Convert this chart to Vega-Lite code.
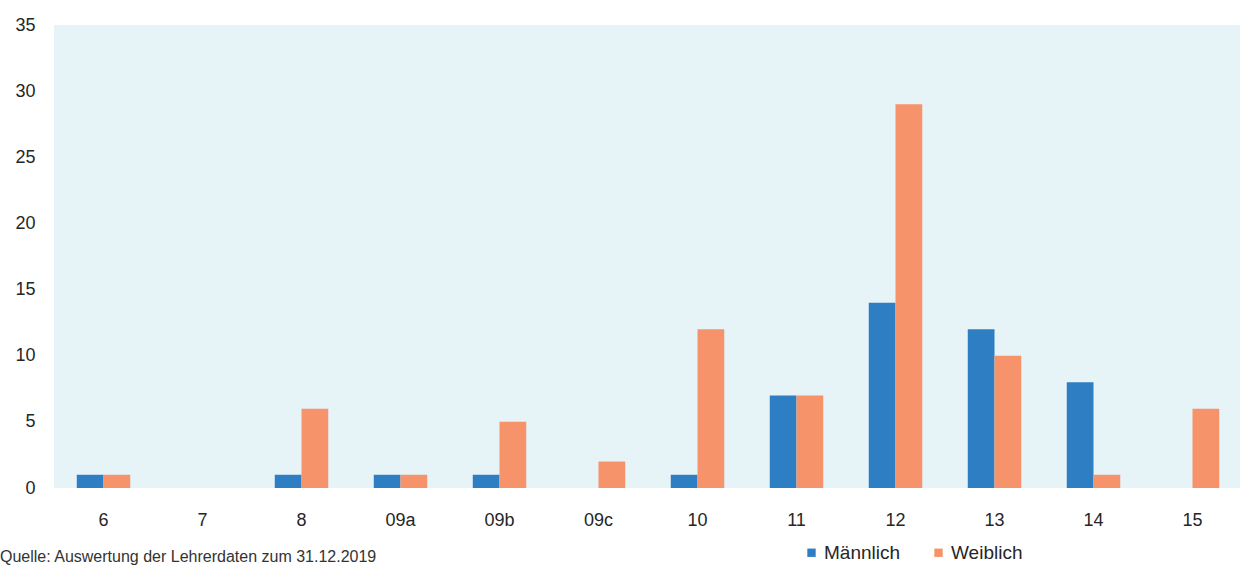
{
  "$schema": "https://vega.github.io/schema/vega-lite/v6.json",
  "autosize": "none",
  "width": 1188,
  "height": 463,
  "padding": {"left": 54, "top": 25, "right": 0, "bottom": 78},
  "background": "white",
  "config": {
    "view": {"fill": "#e6f3f7", "stroke": null},
    "font": "Liberation Sans"
  },
  "title": {
    "text": "Quelle: Auswertung der Lehrerdaten zum 31.12.2019",
    "orient": "bottom",
    "anchor": "start",
    "dx": -15,
    "offset": -14,
    "fontSize": 16,
    "fontWeight": "normal",
    "color": "#333333"
  },
  "data": {
    "values": [
      {"k": "6", "g": "Männlich", "v": 1}, {"k": "6", "g": "Weiblich", "v": 1},
      {"k": "7", "g": "Männlich", "v": 0}, {"k": "7", "g": "Weiblich", "v": 0},
      {"k": "8", "g": "Männlich", "v": 1}, {"k": "8", "g": "Weiblich", "v": 6},
      {"k": "09a", "g": "Männlich", "v": 1}, {"k": "09a", "g": "Weiblich", "v": 1},
      {"k": "09b", "g": "Männlich", "v": 1}, {"k": "09b", "g": "Weiblich", "v": 5},
      {"k": "09c", "g": "Männlich", "v": 0}, {"k": "09c", "g": "Weiblich", "v": 2},
      {"k": "10", "g": "Männlich", "v": 1}, {"k": "10", "g": "Weiblich", "v": 12},
      {"k": "11", "g": "Männlich", "v": 7}, {"k": "11", "g": "Weiblich", "v": 7},
      {"k": "12", "g": "Männlich", "v": 14}, {"k": "12", "g": "Weiblich", "v": 29},
      {"k": "13", "g": "Männlich", "v": 12}, {"k": "13", "g": "Weiblich", "v": 10},
      {"k": "14", "g": "Männlich", "v": 8}, {"k": "14", "g": "Weiblich", "v": 1},
      {"k": "15", "g": "Männlich", "v": 0}, {"k": "15", "g": "Weiblich", "v": 6}
    ]
  },
  "mark": {"type": "bar"},
  "encoding": {
    "x": {
      "field": "k",
      "type": "nominal",
      "sort": null,
      "scale": {"paddingInner": 0.46, "paddingOuter": 0.23},
      "axis": {
        "title": null,
        "labelAngle": 0,
        "domain": false,
        "ticks": false,
        "labelPadding": 23,
        "labelFontSize": 18,
        "labelColor": "#262626"
      }
    },
    "xOffset": {"field": "g", "type": "nominal", "sort": ["Männlich", "Weiblich"]},
    "y": {
      "field": "v",
      "type": "quantitative",
      "scale": {"domain": [0, 35], "nice": false},
      "axis": {
        "title": null,
        "values": [0, 5, 10, 15, 20, 25, 30, 35],
        "grid": false,
        "domain": false,
        "ticks": false,
        "labelPadding": 19,
        "labelFontSize": 18,
        "labelColor": "#262626"
      }
    },
    "color": {
      "field": "g",
      "type": "nominal",
      "sort": ["Männlich", "Weiblich"],
      "scale": {"domain": ["Männlich", "Weiblich"], "range": ["#2e7ec4", "#f7936b"]},
      "legend": {
        "title": null,
        "orient": "none",
        "direction": "horizontal",
        "legendX": 748,
        "legendY": 518,
        "symbolType": "square",
        "symbolSize": 70,
        "symbolOffset": 0,
        "labelFontSize": 19,
        "labelColor": "#262626",
        "labelOffset": 3,
        "columnPadding": 28
      }
    }
  }
}
